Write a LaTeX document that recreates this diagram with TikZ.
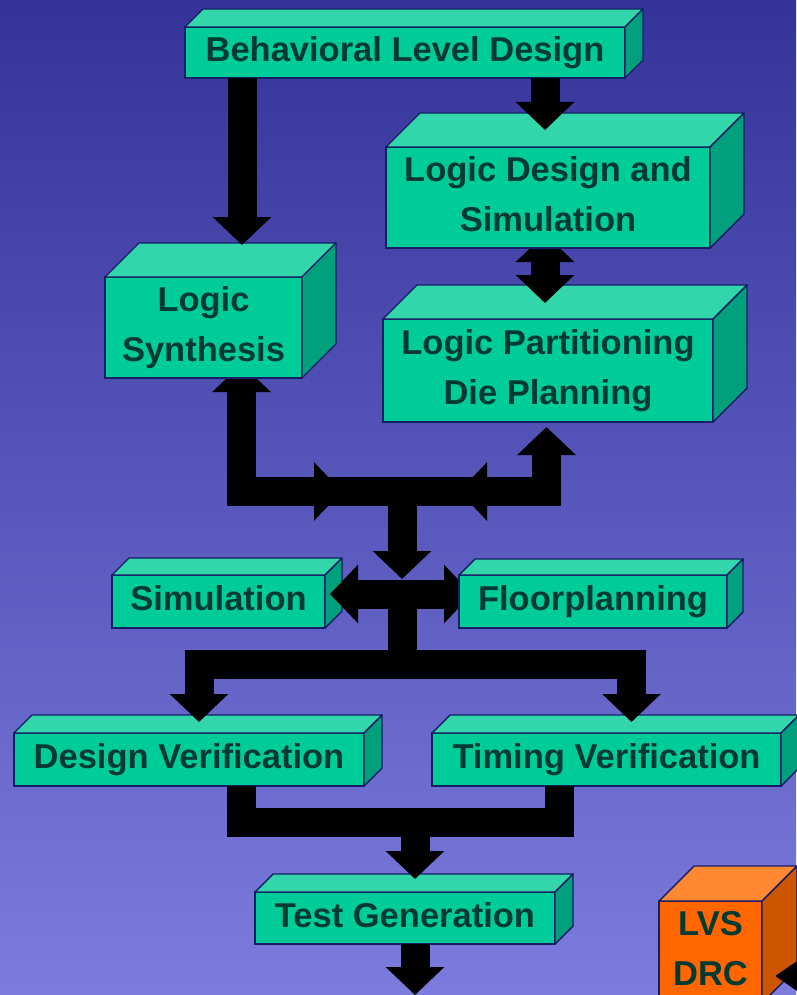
\documentclass[tikz,border=0pt]{standalone}
\usepackage{fontspec}
\setmainfont{Liberation Sans}
\usetikzlibrary{arrows.meta}

\definecolor{bgtop}{RGB}{51,51,153}
\definecolor{bgbot}{RGB}{124,124,222}
\definecolor{gfront}{RGB}{0,204,153}
\definecolor{gtop}{RGB}{51,214,170}
\definecolor{gside}{RGB}{0,160,125}
\definecolor{ofront}{RGB}{255,102,0}
\definecolor{otop}{RGB}{255,136,51}
\definecolor{oside}{RGB}{204,85,0}
\definecolor{edge}{RGB}{20,30,100}
\definecolor{ink}{RGB}{0,59,51}

\pgfdeclarelayer{bg}
\pgfdeclarelayer{under}
\pgfdeclarelayer{over}
\pgfsetlayers{bg,under,main,over}

\newcommand\stagefont{\fontsize{34.5}{50}\selectfont\bfseries}

\tikzset{
  bighead/.tip={Triangle[length=28pt,width=57pt]},
  slimhead/.tip={Triangle[length=28pt,width=36pt]},
  bar/.style={draw=black, line width=29pt},
  blk/.style={bar, -{bighead}},
  blkboth/.style={bar, {bighead}-{bighead}},
  front/.style={draw=edge, line width=1.4pt, text=ink, font=\stagefont,
    align=center, inner sep=0pt, outer sep=0pt, text depth=7pt},
  face/.style={draw=edge, line width=1.4pt, line join=round},
}

% 3-D block: name, centre, width, height, depth, palette, label
\newcommand\stagebox[7]{%
  \node[front, fill=#6front, minimum width=#3, minimum height=#4] (#1) at #2 {#7};
  \filldraw[face, fill=#6top] (#1.north west) -- ++(#5,-#5)
    -- ([shift={(#5,-#5)}]#1.north east) -- (#1.north east) -- cycle;
  \filldraw[face, fill=#6side] (#1.north east) -- ++(#5,-#5)
    -- ([shift={(#5,-#5)}]#1.south east) -- (#1.south east) -- cycle;
}

\begin{document}
\begin{tikzpicture}[x=1pt,y=-1pt]
\useasboundingbox (0,0) rectangle (796,995);
\begin{pgfonlayer}{bg}
  \shade[top color=bgtop, bottom color=bgbot] (0,0) rectangle (796,995);
\end{pgfonlayer}

% blocks
\stagebox{behav}{(405,52.5)}{440pt}{51pt}{18}{g}{Behavioral Level Design}
\stagebox{lds}{(548,197.5)}{324pt}{101pt}{34}{g}{Logic Design and\\Simulation}
\stagebox{lpdp}{(548,370.5)}{330pt}{103pt}{34}{g}{Logic Partitioning\\Die Planning}
\stagebox{lsyn}{(203.5,327.5)}{197pt}{101pt}{34}{g}{Logic\\Synthesis}
\stagebox{sim}{(218.5,601.5)}{213pt}{53pt}{17}{g}{Simulation}
\stagebox{floor}{(593,601.5)}{268pt}{53pt}{16}{g}{Floorplanning}
\stagebox{dver}{(189,759.5)}{350pt}{53pt}{18}{g}{Design Verification}
\stagebox{tver}{(606.5,759.5)}{349pt}{53pt}{18}{g}{Timing Verification}
\stagebox{tgen}{(405,918)}{300pt}{52pt}{18}{g}{Test Generation}
\stagebox{lvs}{(710.5,952)}{103pt}{102pt}{35}{o}{LVS\\DRC}

% junction points of the arrow network
\coordinate (hubA) at (402,491.5);
\coordinate (hubB) at (402,594);
\coordinate (hubC) at (402,664);
\coordinate (hubD) at (415,822.5);
\coordinate (tgout) at (415,995);
\coordinate (lvsin) at (840,976);

% arrows tucked under the blocks
\begin{pgfonlayer}{under}
  \draw[blk] ([xshift=-3pt,yshift=-27pt]lds.south) -- ([xshift=-3pt,yshift=14pt]lds.south);
  \draw[blkboth] ([xshift=38pt,yshift=14pt]lsyn.south) |- ([xshift=-60pt]hubA);
  \draw[blk] (hubB) -- ([xshift=13pt,yshift=7.5pt]floor.west);
\end{pgfonlayer}

% arrows lying over the blocks
\begin{pgfonlayer}{over}
  \draw[blk] ([xshift=57pt]behav.south west) -- ([xshift=38.5pt,yshift=32pt]lsyn.north);
  \draw[blk] ([xshift=-80pt]behav.south east) -- ([xshift=-3pt,yshift=17pt]lds.north);
  \draw[blk] ([xshift=-3pt,yshift=-14pt]lds.south) -- ([xshift=-3pt,yshift=16pt]lpdp.north);
  \draw[blkboth] ([xshift=-1.5pt,yshift=-5pt]lpdp.south) |- ([xshift=57pt]hubA);
  \draw[bar] ([xshift=-88pt]hubA) -- ([xshift=85pt]hubA);
  \draw[blk] (hubA) -- ([yshift=15pt]hubB);
  \draw[blk] (hubB) -- ([xshift=5pt,yshift=7.5pt]sim.east);
  \draw[bar] (hubB) -- (hubC);
  \draw[blkboth] ([xshift=10pt,yshift=11pt]dver.north) |- (hubC) -| ([xshift=25pt,yshift=11pt]tver.north);
  \draw[bar] ([xshift=52.5pt]dver.south) |- (hubD) -| ([xshift=-47.5pt]tver.south);
  \draw[blk] (hubD) -- ([xshift=10pt,yshift=13pt]tgen.north);
  \draw[blk] ([xshift=10pt]tgen.south) -- (tgout);
  \draw[bar, line width=18pt, -{slimhead}] (lvsin) -- ([xshift=13pt,yshift=-24pt]lvs.east);
\end{pgfonlayer}
\end{tikzpicture}
\end{document}
